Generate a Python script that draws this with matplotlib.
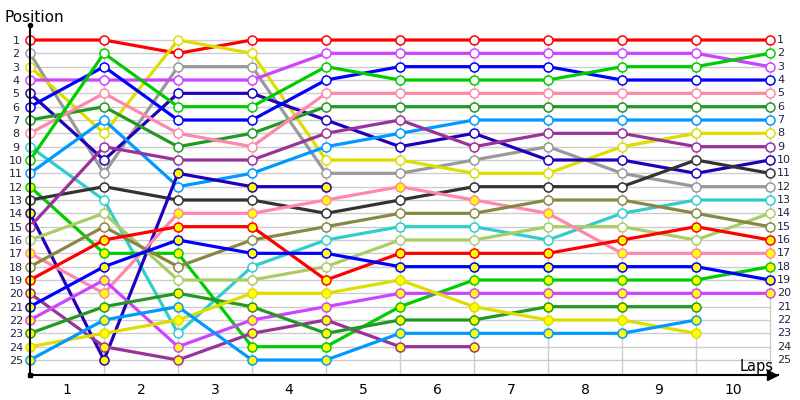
import matplotlib
matplotlib.use('Agg')
import matplotlib.pyplot as plt
from matplotlib.transforms import offset_copy

# ---- data ----
lap_labels = [str(i) for i in range(1, 11)]
positions = list(range(1, 26))

colors = ['#ff0000', '#999999', '#dddd00', '#cc44ff', '#2200bb', '#0000ff', '#229922', '#ff88aa',
          '#33cccc', '#00cc00', '#0099ff', '#00cc00', '#333333', '#2200bb', '#993399', '#aacc66',
          '#ff88aa', '#888844', '#ff0000', '#993399', '#0000ff', '#cc44ff', '#229922', '#dddd00',
          '#0099ff']
yellow_fill = [False] * 11 + [True, False, True, False, False, True, False] + [True] * 7

d01 = [1, 1, 2, 1, 1, 1, 1, 1, 1, 1, 1]
d02 = [2, 11, 3, 3, 11, 11, 10, 9, 11, 12, 12]
d03 = [3, 8, 1, 2, 10, 10, 11, 11, 9, 8, 8]
d04 = [4, 4, 4, 4, 2, 2, 2, 2, 2, 2, 3]
d05 = [5, 10, 5, 5, 7, 9, 8, 10, 10, 11, 10]
d06 = [6, 3, 7, 7, 4, 3, 3, 3, 4, 4, 4]
d07 = [7, 6, 9, 8, 6, 6, 6, 6, 6, 6, 6]
d08 = [8, 5, 8, 9, 5, 5, 5, 5, 5, 5, 5]
d09 = [9, 13, 23, 18, 16, 15, 15, 16, 14, 13, 13]
d10 = [10, 2, 6, 6, 3, 4, 4, 4, 3, 3, 2]
d11 = [11, 7, 12, 11, 9, 8, 7, 7, 7, 7, 7]
d12 = [12, 17, 17, 24, 24, 21, 19, 19, 19, 19, 18]
d13 = [13, 12, 13, 13, 14, 13, 12, 12, 12, 10, 11]
d14 = [14, 25, 11, 12, 12]
d15 = [15, 9, 10, 10, 8, 7, 9, 8, 8, 9, 9]
d16 = [16, 14, 19, 19, 18, 16, 16, 15, 15, 16, 14]
d17 = [17, 20, 14, 14, 13, 12, 13, 14, 17, 17, 17]
d18 = [18, 15, 18, 16, 15, 14, 14, 13, 13, 14, 15]
d19 = [19, 16, 15, 15, 19, 17, 17, 17, 16, 15, 16]
d20 = [20, 24, 25, 23, 22, 24, 24]
d21 = [21, 18, 16, 17, 17, 18, 18, 18, 18, 18, 19]
d22 = [22, 19, 24, 22, 21, 20, 20, 20, 20, 20, 20]
d23 = [23, 21, 20, 21, 23, 22, 22, 21, 21, 21]
d24 = [24, 23, 22, 20, 20, 19, 21, 22, 22, 23]
d25 = [25, 22, 21, 25, 25, 23, 23, 23, 23, 22]

drivers = [d01, d02, d03, d04, d05, d06, d07, d08, d09, d10, d11, d12, d13,
           d14, d15, d16, d17, d18, d19, d20, d21, d22, d23, d24, d25]
n_laps = 10

# ---- figure ----
W, H = 800, 400
fig = plt.figure(figsize=(8, 4), dpi=100)
ax = fig.add_axes([30 / W, 25 / H, 748 / W, 350 / H])
step_y = 320 / 24
ax.set_xlim(0, 748 / 74)
ax.set_ylim(1 + 335 / step_y, 1 - 15 / step_y)

for s in ['top', 'right']:
    ax.spines[s].set_visible(False)
for s in ['left', 'bottom']:
    ax.spines[s].set_linewidth(1.5)
    ax.spines[s].set_color('black')

ax.hlines(positions, 0, n_laps, color='#cccccc', lw=1, zorder=0)
ax.vlines(range(1, n_laps + 1), 1, 1 + 335 / step_y, color='#cccccc', lw=1, zorder=0)

for i, (p, c, yf) in enumerate(zip(drivers, colors, yellow_fill)):
    ax.plot(range(len(p)), p, color=c, lw=2.3, marker='o', ms=6.5,
            mfc='#ffff00' if yf else 'white', mec=c, mew=1.1, zorder=2 + i * 0.01,
            clip_on=False)

# ticks
ax.set_xticks([i + 0.5 for i in range(n_laps)])
ax.set_xticklabels(lap_labels, fontsize=10)
ax.set_yticks(positions)
ax.set_yticklabels([str(p) for p in positions], fontsize=8, color='#222244')
ax.tick_params(axis='x', length=0, pad=6)
ax.tick_params(axis='y', length=0, pad=10)
for lab in ax.get_yticklabels():
    lab.set_ha('center')

tr = offset_copy(ax.transData, fig=fig, x=7, y=0, units='dots')
for p in positions:
    ax.text(n_laps, p, str(p), transform=tr, ha='left', va='center', fontsize=8,
            color='#222244', clip_on=False)

# axis decorations
ax.plot([0], [1], 'o', color='black', ms=3, transform=ax.transAxes, clip_on=False)
ax.plot([0], [0], 's', color='black', ms=2.5, transform=ax.transAxes, clip_on=False)
ax.plot([0.992], [0], '>', color='black', ms=7, transform=ax.transAxes, clip_on=False)

fig.text(5 / W, 1 - 22 / H, 'Position', fontsize=11, ha='left', va='baseline')
fig.text(740 / W, 1 - 371 / H, 'Laps', fontsize=10.5, ha='left', va='baseline')

fig.savefig('out.png', dpi=100)
